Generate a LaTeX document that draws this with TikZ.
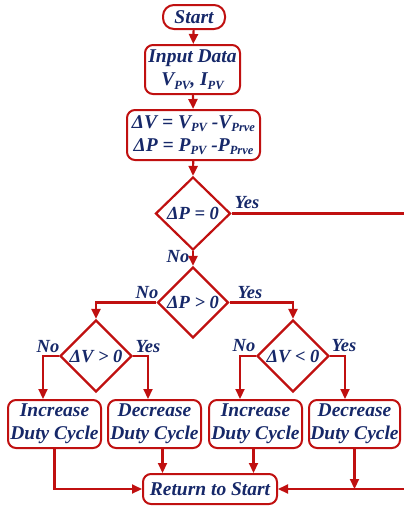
\documentclass[tikz,border=0pt]{standalone}
\usepackage{fontspec}
\setmainfont{Liberation Serif}
\usetikzlibrary{shapes.geometric,arrows.meta}
\definecolor{lr}{RGB}{192,16,16}
\definecolor{tb}{RGB}{22,40,105}
\newcommand{\sbs}[1]{\raisebox{-0.4ex}{\fontsize{12.5}{12.5}\selectfont #1}}
\begin{document}
\begin{tikzpicture}[x=1pt,y=-1pt,
  font=\fontsize{19.5}{23}\selectfont\bfseries\itshape, text=tb,
  box/.style={draw=lr, line width=2pt, fill=white, rounded corners=8pt, align=center, inner sep=0pt},
  dia/.style={diamond, draw=lr, line width=2.2pt, fill=white, inner sep=0pt},
  arr/.style={draw=lr, line width=2.2pt, -{Triangle[length=10pt,width=9pt]}},
  ln/.style={draw=lr, line width=2.2pt},
  lbl/.style={font=\fontsize{18.5}{20}\selectfont\bfseries\itshape, text=tb, inner sep=0pt},
  dtxt/.style={font=\fontsize{18.5}{20}\selectfont\bfseries\itshape, text=tb, inner sep=0pt}]
\useasboundingbox (0,0) rectangle (404,506);
% nodes
\node[box, rounded corners=11pt, minimum width=62pt, minimum height=24pt] (start) at (194,17) {Start};
\node[box, minimum width=95pt, minimum height=49pt] (inp) at (192.5,69.5) {Input Data\\V\sbs{PV}, I\sbs{PV}};
\node[box, minimum width=133pt, minimum height=50pt] (calc) at (193.5,135) {ΔV = V\sbs{PV} -V\sbs{Prve}\\ΔP = P\sbs{PV} -P\sbs{Prve}};
\node[dia, minimum width=75pt, minimum height=73pt] (d1) at (193,213.5) {};
\node[dtxt] (t1) at (d1) {ΔP = 0};
\node[dia, minimum width=71pt, minimum height=71pt] (d2) at (193,302.5) {};
\node[dtxt] (t2) at (d2) {ΔP > 0};
\node[dia, minimum width=72pt, minimum height=72pt] (d3) at (96,356) {};
\node[dtxt] (t3) at (d3) {ΔV > 0};
\node[dia, minimum width=72pt, minimum height=72pt] (d4) at (293,356) {};
\node[dtxt] (t4) at (d4) {ΔV < 0};
\node[box, minimum width=93pt, minimum height=48pt] (b1) at (54.5,424) {Increase\\Duty Cycle};
\node[box, minimum width=93pt, minimum height=48pt] (b2) at (154.5,424) {Decrease\\Duty Cycle};
\node[box, minimum width=93pt, minimum height=48pt] (b3) at (255.5,424) {Increase\\Duty Cycle};
\node[box, minimum width=91pt, minimum height=48pt] (b4) at (354.5,424) {Decrease\\Duty Cycle};
\node[box, minimum width=134pt, minimum height=30pt] (ret) at (210,489) {Return to Start};
% labels
\node[lbl] (y1) at (247,203) {Yes};
\node[lbl] (n1) at (178,257) {No};
\node[lbl] (n2) at (147,293) {No};
\node[lbl] (y2) at (250,293) {Yes};
\node[lbl] (n3) at (48,347) {No};
\node[lbl] (y3) at (148,347) {Yes};
\node[lbl] (n4) at (244,346) {No};
\node[lbl] (y4) at (344,346) {Yes};
% connectors
\draw[arr] (start) -- (inp);
\draw[arr] (inp) -- (calc);
\draw[arr] (calc) -- (d1.north);
\draw[arr] (d1.south) -- (d2.north);
\coordinate (re1) at (405,213.5);
\draw[ln] (d1.east) -- (re1);
\draw[arr] (d2.west) -| (d3.north);
\draw[arr] (d2.east) -| (d4.north);
\draw[arr] (d3.west) -| ([xshift=-11.5pt]b1.north);
\draw[arr] (d3.east) -| ([xshift=-6.5pt]b2.north);
\draw[arr] (d4.west) -| ([xshift=-15.5pt]b3.north);
\draw[arr] (d4.east) -| ([xshift=-9.5pt]b4.north);
\draw[arr] (b1.south) |- (ret.west);
\coordinate (p2) at ([xshift=8pt]b2.south);
\draw[arr] (p2) -- (p2 |- ret.north);
\coordinate (p3) at ([xshift=-2pt]b3.south);
\draw[arr] (p3) -- (p3 |- ret.north);
\coordinate (re2) at (405,489);
\draw[arr] (b4.south) -- (b4.south |- re2);
\draw[arr] (re2) -- (ret.east);
\end{tikzpicture}
\end{document}
